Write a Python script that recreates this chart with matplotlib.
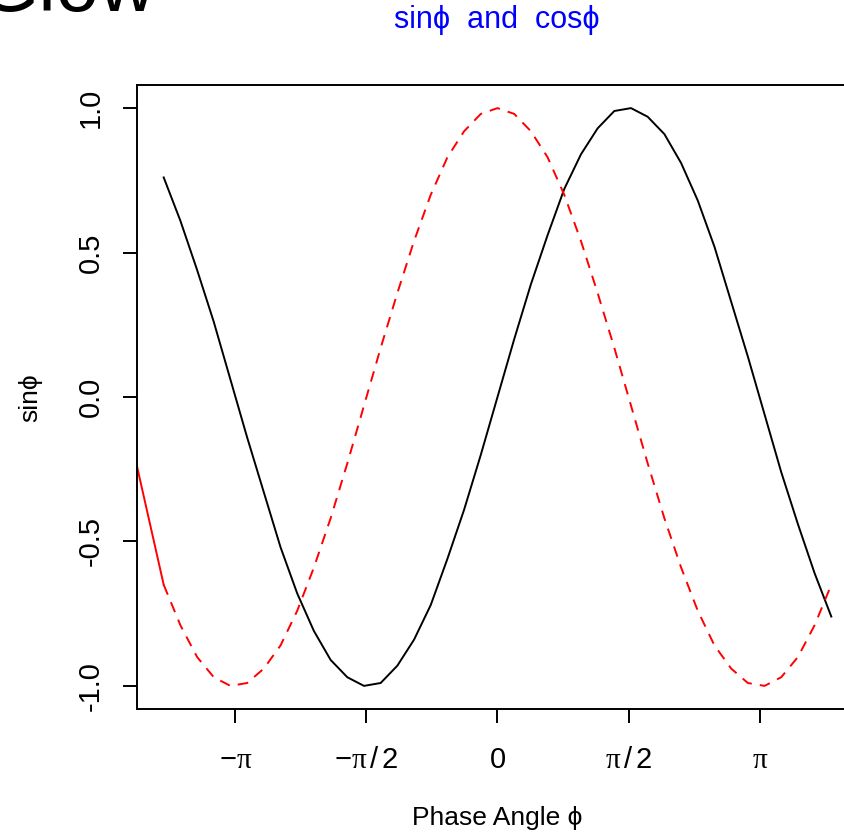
import matplotlib
matplotlib.use("Agg")
import matplotlib.pyplot as plt
import numpy as np

plt.rcParams['font.family'] = ['Liberation Sans', 'DejaVu Sans']
plt.rcParams['mathtext.fontset'] = 'custom'
plt.rcParams['mathtext.rm'] = 'Liberation Sans'
plt.rcParams['mathtext.it'] = 'Liberation Serif'

# ---- data ----
phi = [-4.0, -3.8, -3.6, -3.4, -3.2, -3.0, -2.8, -2.6, -2.4, -2.2, -2.0,
       -1.8, -1.6, -1.4, -1.2, -1.0, -0.8, -0.6, -0.4, -0.2, 0.0,
       0.2, 0.4, 0.6, 0.8, 1.0, 1.2, 1.4, 1.6, 1.8, 2.0,
       2.2, 2.4, 2.6, 2.8, 3.0, 3.2, 3.4, 3.6, 3.8, 4.0]
sin_vals = [0.76, 0.61, 0.44, 0.26, 0.06, -0.14, -0.33, -0.52, -0.68, -0.81, -0.91,
            -0.97, -1.00, -0.99, -0.93, -0.84, -0.72, -0.56, -0.39, -0.20, 0.00,
            0.20, 0.39, 0.56, 0.72, 0.84, 0.93, 0.99, 1.00, 0.97, 0.91,
            0.81, 0.68, 0.52, 0.33, 0.14, -0.06, -0.26, -0.44, -0.61, -0.76]
cos_vals = [-0.65, -0.79, -0.90, -0.97, -1.00, -0.99, -0.94, -0.86, -0.74, -0.59, -0.42,
            -0.23, -0.03, 0.17, 0.36, 0.54, 0.70, 0.83, 0.92, 0.98, 1.00,
            0.98, 0.92, 0.83, 0.70, 0.54, 0.36, 0.17, -0.03, -0.23, -0.42,
            -0.59, -0.74, -0.86, -0.94, -0.99, -1.00, -0.97, -0.90, -0.79, -0.65]
edge_x = [-4.32, -4.0]
edge_y = [-0.24, -0.65]

xtick_pos = [-np.pi, -np.pi / 2, 0, np.pi / 2, np.pi]
xtick_labels = [r'$-\pi$', r'$-\pi\,/\,2$', r'$0$', r'$\pi\,/\,2$', r'$\pi$']
ytick_pos = [-1.0, -0.5, 0.0, 0.5, 1.0]
ytick_labels = ['-1.0', '-0.5', '0.0', '0.5', '1.0']

W, H = 845, 833
fig = plt.figure(figsize=(W / 100, H / 100), dpi=100)
left, right, top, bottom = 137, 858, 85, 709
ax = fig.add_axes([left / W, (H - bottom) / H, (right - left) / W, (bottom - top) / H])

ax.plot(phi, sin_vals, color='black', lw=1.4)
ax.plot(phi, cos_vals, color='red', lw=1.4, linestyle=(0, (5.5, 4.2)))
ax.plot(edge_x, edge_y, color='red', lw=1.4)

ax.set_xlim(-4.32, 4.32)
ax.set_ylim(-1.08, 1.08)

for s in ['top', 'bottom', 'left', 'right']:
    ax.spines[s].set_linewidth(1.4)
    ax.spines[s].set_color('black')

ax.set_xticks(xtick_pos)
ax.set_xticklabels(xtick_labels, fontsize=21)
ax.set_yticks(ytick_pos)
ax.set_yticklabels(ytick_labels, fontsize=21, rotation=90, va='center')
ax.tick_params(axis='both', length=10, width=1.4, direction='out')
ax.tick_params(axis='x', pad=17)
ax.tick_params(axis='y', pad=13)

fig.text(497 / W, 1 - 818 / H, 'Phase Angle \u03d5', fontsize=19,
         ha='center', va='center')
fig.text(30 / W, 1 - 398 / H, 'sin\u03d5', fontsize=19, rotation=90,
         ha='center', va='center')

fig.text(497 / W, 1 - 20 / H, 'sin\u03d5  and  cos\u03d5', color='blue',
         fontsize=22, ha='center', va='center')
fig.text(-22 / W, 1 - 11 / H, 'Glow', color='black', fontsize=56,
         ha='left', va='baseline')

fig.savefig('out.png', dpi=100)
